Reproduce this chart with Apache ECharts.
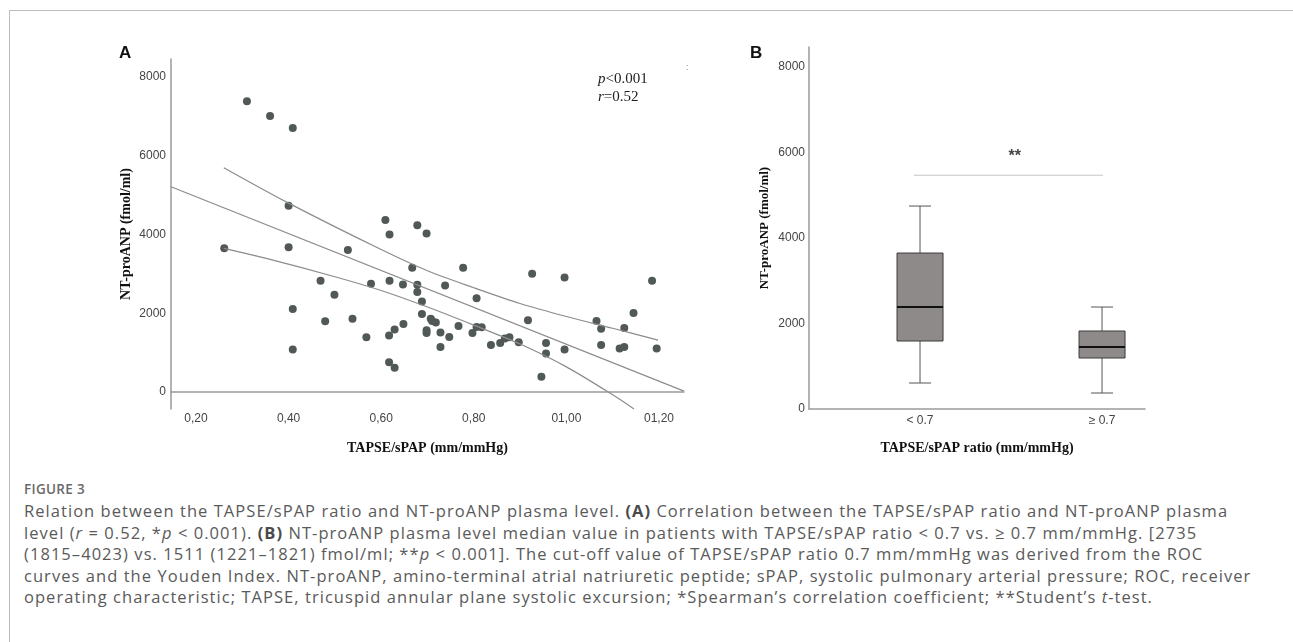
<!DOCTYPE html>
<html>
<head>
<meta charset="utf-8">
<script src="https://cdn.jsdelivr.net/npm/echarts@6/dist/echarts.min.js"></script>
<style>
  html, body { margin: 0; padding: 0; background: #fff; }
  #frame { position: absolute; left: 9px; top: 10px; width: 1300px; height: 700px; border: 1px solid #bdbdbd; box-sizing: border-box; }
  #chart { position: absolute; left: 0; top: 0; width: 1293px; height: 470px; }
  #caption { position: absolute; left: 24px; top: 478px; font-family: "Open Sans", "Lato", sans-serif; color: #5a5a5a; }
  #caption .fig { font-size: 13.5px; font-weight: 600; color: #6a6a6a; line-height: 22px; letter-spacing: 0.3px; }
  #caption .ln { font-size: 16.5px; letter-spacing: 1.05px; line-height: 21.6px; white-space: nowrap; }
  #caption b { color: #4a4a4a; }
</style>
</head>
<body>
<div id="frame"></div>
<div id="chart"></div>
<div id="caption">
  <div class="fig">FIGURE 3</div>
  <div class="ln">Relation between the TAPSE/sPAP ratio and NT-proANP plasma level. <b>(A)</b> Correlation between the TAPSE/sPAP ratio and NT-proANP plasma</div>
  <div class="ln">level (<i>r</i> = 0.52, *<i>p</i> &lt; 0.001). <b>(B)</b> NT-proANP plasma level median value in patients with TAPSE/sPAP ratio &lt; 0.7 vs. ≥ 0.7 mm/mmHg. [2735</div>
  <div class="ln">(1815–4023) vs. 1511 (1221–1821) fmol/ml; **<i>p</i> &lt; 0.001]. The cut-off value of TAPSE/sPAP ratio 0.7 mm/mmHg was derived from the ROC</div>
  <div class="ln">curves and the Youden Index. NT-proANP, amino-terminal atrial natriuretic peptide; sPAP, systolic pulmonary arterial pressure; ROC, receiver</div>
  <div class="ln">operating characteristic; TAPSE, tricuspid annular plane systolic excursion; *Spearman’s correlation coefficient; **Student’s <i>t</i>-test.</div>
</div>
<script>
// panel A: TAPSE/sPAP vs NT-proANP
const tapse = [0.310, 0.360, 0.409, 0.400, 0.261, 0.400, 0.528, 0.469, 0.578, 0.618,
  0.499, 0.409, 0.479, 0.538, 0.568, 0.629, 0.617, 0.409, 0.617, 0.629,
  0.618, 0.698, 0.609, 0.678, 0.667, 0.777, 0.647, 0.678, 0.738, 0.678,
  0.688, 0.806, 0.688, 0.707, 0.710, 0.718, 0.698, 0.698, 0.728, 0.747,
  0.728, 0.767, 0.797, 0.806, 0.817, 0.837, 0.857, 0.867, 0.877, 0.897,
  0.917, 0.926, 0.946, 0.956, 0.956, 0.996, 0.996, 1.065, 1.075, 1.075,
  1.115, 1.125, 1.125, 1.145, 1.185, 1.195, 0.648];
const ntproanp = [7390, 7010, 6710, 4730, 3650, 3680, 3610, 2830, 2750, 2830,
  2470, 2110, 1800, 1860, 1390, 1590, 1440, 1080, 760, 615,
  4000, 4030, 4370, 4240, 3155, 3155, 2730, 2725, 2710, 2540,
  2300, 2380, 1980, 1865, 1805, 1770, 1570, 1500, 1510, 1400,
  1146, 1677, 1500, 1652, 1644, 1197, 1247, 1358, 1391, 1265,
  1822, 3003, 387, 1247, 977, 2910, 1080, 1804, 1611, 1197,
  1105, 1146, 1627, 2006, 2826, 1105, 1728];

// fit line and confidence band
const fitX = [0.146, 1.254];
const fitY = [5215, 25];
const upperX = [0.26, 0.40, 0.60, 0.70, 0.80, 0.90, 1.00, 1.10, 1.198];
const upperY = [5700, 4800, 3620, 3080, 2650, 2250, 1920, 1620, 1320];
const lowerX = [0.26, 0.36, 0.50, 0.60, 0.70, 0.80, 0.90, 1.00, 1.10, 1.146];
const lowerY = [3650, 3370, 2930, 2580, 2160, 1700, 1220, 640, -70, -430];

const xTicksA = [0.2, 0.4, 0.6, 0.8, 1.0, 1.2];
const xTickLabelsA = ["0,20", "0,40", "0,60", "0,80", "01,00", "01,20"];
const yTicks = [0, 2000, 4000, 6000, 8000];

// panel B: box plot
const groups = ["< 0.7", "≥ 0.7"];
const groupPos = [1, 2];
const boxMin = [608, 374];
const boxQ1 = [1591, 1193];
const boxMedian = [2386, 1450];
const boxQ3 = [3649, 1825];
const boxMax = [4749, 2386];
const sigLineX = [0.967, 2.005];
const sigLineY = 5470;

const tickFont = { fontFamily: "'Liberation Sans Narrow', 'Liberation Sans', Arial", fontSize: 12, color: "#444" };
const nameFont = { fontFamily: "'Liberation Serif', 'Times New Roman', serif", fontWeight: "bold", fontSize: 14, color: "#111" };
const axisLine = { show: true, lineStyle: { color: "#9a9a9a", width: 1.5 } };
const pair = (xs, ys) => xs.map((x, i) => [x, ys[i]]);
const plain = (v) => String(Math.round(v));

function renderBox(params, api) {
  const x = api.value(0);
  const c = (v) => api.coord([x, v]);
  const [cx, yMin] = c(api.value(1));
  const yQ1 = c(api.value(2))[1];
  const yMed = c(api.value(3))[1];
  const yQ3 = c(api.value(4))[1];
  const yMax = c(api.value(5))[1];
  const half = 23, cap = 11;
  const line = (x1, y1, x2, y2, w, col) => ({ type: "line", shape: { x1, y1, x2, y2 }, style: { stroke: col, lineWidth: w } });
  return { type: "group", children: [
    line(cx, yMax, cx, yQ3, 1, "#555"),
    line(cx, yMin, cx, yQ1, 1, "#555"),
    line(cx - cap, yMax, cx + cap, yMax, 1, "#555"),
    line(cx - cap, yMin, cx + cap, yMin, 1, "#555"),
    { type: "rect", shape: { x: cx - half, y: yQ3, width: half * 2, height: yQ1 - yQ3 },
      style: { fill: "#8f8a8a", stroke: "#3a3a3a", lineWidth: 1 } },
    line(cx - half, yMed, cx + half, yMed, 2, "#111")
  ]};
}

const chart = echarts.init(document.getElementById("chart"));
chart.setOption({
  animation: false,
  grid: [
    { left: 171, top: 59, width: 513, height: 350 },
    { left: 809, top: 47, width: 336, height: 362 }
  ],
  xAxis: [
    { gridIndex: 0, type: "value", min: 0.146, max: 1.254, splitLine: { show: false },
      axisLine, axisTick: { show: false },
      axisLabel: { ...tickFont, margin: 4, customValues: xTicksA,
        formatter: (v) => xTickLabelsA[xTicksA.findIndex(t => Math.abs(t - v) < 1e-6)] },
      name: "TAPSE/sPAP (mm/mmHg)", nameLocation: "middle", nameGap: 32, nameTextStyle: nameFont },
    { gridIndex: 1, type: "value", min: 0.39, max: 2.236, splitLine: { show: false },
      axisLine, axisTick: { show: false },
      axisLabel: { ...tickFont, margin: 6, customValues: groupPos,
        formatter: (v) => groups[groupPos.indexOf(Math.round(v))] },
      name: "TAPSE/sPAP ratio (mm/mmHg)", nameLocation: "middle", nameGap: 32, nameTextStyle: nameFont }
  ],
  yAxis: [
    { gridIndex: 0, type: "value", min: -430, max: 8460, splitLine: { show: false },
      axisLine, axisTick: { show: false },
      axisLabel: { ...tickFont, margin: 5, customValues: yTicks, formatter: plain },
      name: "NT-proANP (fmol/ml)", nameLocation: "middle", nameGap: 38, nameTextStyle: nameFont },
    { gridIndex: 1, type: "value", min: 0, max: 8470, splitLine: { show: false },
      axisLine, axisTick: { show: false },
      axisLabel: { ...tickFont, margin: 4, customValues: yTicks, formatter: plain },
      name: "NT-proANP (fmol/ml)", nameLocation: "middle", nameGap: 38,
      nameTextStyle: { ...nameFont, fontSize: 13 } }
  ],
  series: [
    { type: "line", xAxisIndex: 0, yAxisIndex: 0, data: pair(fitX, fitY), symbol: "none",
      lineStyle: { color: "#8c8c8c", width: 1.2 } },
    { type: "line", xAxisIndex: 0, yAxisIndex: 0, data: pair(upperX, upperY), symbol: "none", smooth: 0.3,
      lineStyle: { color: "#8c8c8c", width: 1.2 } },
    { type: "line", xAxisIndex: 0, yAxisIndex: 0, data: pair(lowerX, lowerY), symbol: "none", smooth: 0.3,
      lineStyle: { color: "#8c8c8c", width: 1.2 } },
    { type: "scatter", xAxisIndex: 0, yAxisIndex: 0, data: pair(tapse, ntproanp),
      symbolSize: 8, itemStyle: { color: "#515957", opacity: 1 } },
    { type: "custom", xAxisIndex: 1, yAxisIndex: 1, renderItem: renderBox,
      data: groupPos.map((p, i) => [p, boxMin[i], boxQ1[i], boxMedian[i], boxQ3[i], boxMax[i]]) },
    { type: "line", xAxisIndex: 1, yAxisIndex: 1, data: sigLineX.map(x => [x, sigLineY]), symbol: "none",
      lineStyle: { color: "#c4c4c4", width: 1 } },
    { type: "scatter", xAxisIndex: 1, yAxisIndex: 1, data: [[1.52, 5900]], symbolSize: 0,
      label: { show: true, formatter: "**", fontFamily: "'Liberation Sans', Arial", fontWeight: "bold", fontSize: 16, color: "#111" } }
  ],
  graphic: [
    { type: "text", left: 119, top: 45, style: { text: "A", font: "bold 17px 'Liberation Sans', Arial", fill: "#111" } },
    { type: "text", left: 750, top: 45, style: { text: "B", font: "bold 17px 'Liberation Sans', Arial", fill: "#111" } },
    { type: "text", left: 598, top: 72, style: { text: "{i|p}<0.001", font: "15px 'Liberation Serif', serif", fill: "#222",
      rich: { i: { fontStyle: "italic", fontFamily: "Liberation Serif", fontSize: 15, fill: "#222" } } } },
    { type: "text", left: 598, top: 90, style: { text: "{i|r}=0.52", font: "15px 'Liberation Serif', serif", fill: "#222",
      rich: { i: { fontStyle: "italic", fontFamily: "Liberation Serif", fontSize: 15, fill: "#222" } } } },
    { type: "text", left: 686, top: 63, style: { text: ":", font: "9px 'Liberation Sans', Arial", fill: "#888" } }
  ]
});
</script>
</body>
</html>
